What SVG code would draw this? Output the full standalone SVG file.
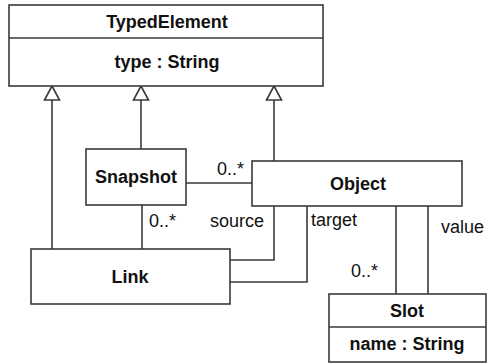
<svg xmlns="http://www.w3.org/2000/svg" width="488" height="363" viewBox="0 0 488 363">
<style>
.box{fill:#fff;stroke:#3a3a3a;stroke-width:1.6}
.ln{fill:none;stroke:#3a3a3a;stroke-width:1.6}
.tri{fill:#fff;stroke:#3a3a3a;stroke-width:1.6;stroke-linejoin:miter}
.b{font-family:"Liberation Sans",Arial,sans-serif;font-weight:bold;font-size:18px;fill:#111;text-anchor:middle}
.r{font-family:"Liberation Sans",Arial,sans-serif;font-size:18px;fill:#111}
</style>
<rect width="488" height="363" fill="#fff"/>
<g id="connectors">
<path class="ln" d="M52,100 V249"/>
<path class="ln" d="M141,100 V149"/>
<path class="ln" d="M274,100 V161"/>
<path class="ln" d="M186,183 H252"/>
<path class="ln" d="M142,205 V249"/>
<path class="ln" d="M274,206 V260 H230"/>
<path class="ln" d="M307,206 V282 H230"/>
<path class="ln" d="M396,206 V294"/>
<path class="ln" d="M428,206 V294"/>
<path class="tri" d="M52,86 L44.5,100 H59.5 Z"/>
<path class="tri" d="M141,86 L133.5,100 H148.5 Z"/>
<path class="tri" d="M274,86 L266.5,100 H281.5 Z"/>
<text class="r" x="217" y="175">0..*</text>
<text class="r" x="149" y="227">0..*</text>
<text class="r" x="210" y="227">source</text>
<text class="r" x="311" y="226">target</text>
<text class="r" x="441" y="233">value</text>
<text class="r" x="351" y="277">0..*</text>
</g>
<g id="TypedElement">
<rect class="box" x="9" y="5" width="314" height="81"/>
<line class="ln" x1="9" y1="38" x2="323" y2="38"/>
<text class="b" x="167" y="28">TypedElement</text>
<text class="b" x="167" y="68">type : String</text>
</g>
<g id="Snapshot">
<rect class="box" x="86" y="149" width="100" height="56"/>
<text class="b" x="136" y="183">Snapshot</text>
</g>
<g id="Object">
<rect class="box" x="252" y="161" width="210" height="45"/>
<text class="b" x="358" y="190">Object</text>
</g>
<g id="Link">
<rect class="box" x="31" y="249" width="199" height="55"/>
<text class="b" x="130" y="283">Link</text>
</g>
<g id="Slot">
<rect class="box" x="329" y="294" width="157" height="68"/>
<line class="ln" x1="329" y1="327" x2="486" y2="327"/>
<text class="b" x="407" y="317">Slot</text>
<text class="b" x="407" y="350">name : String</text>
</g>
</svg>
